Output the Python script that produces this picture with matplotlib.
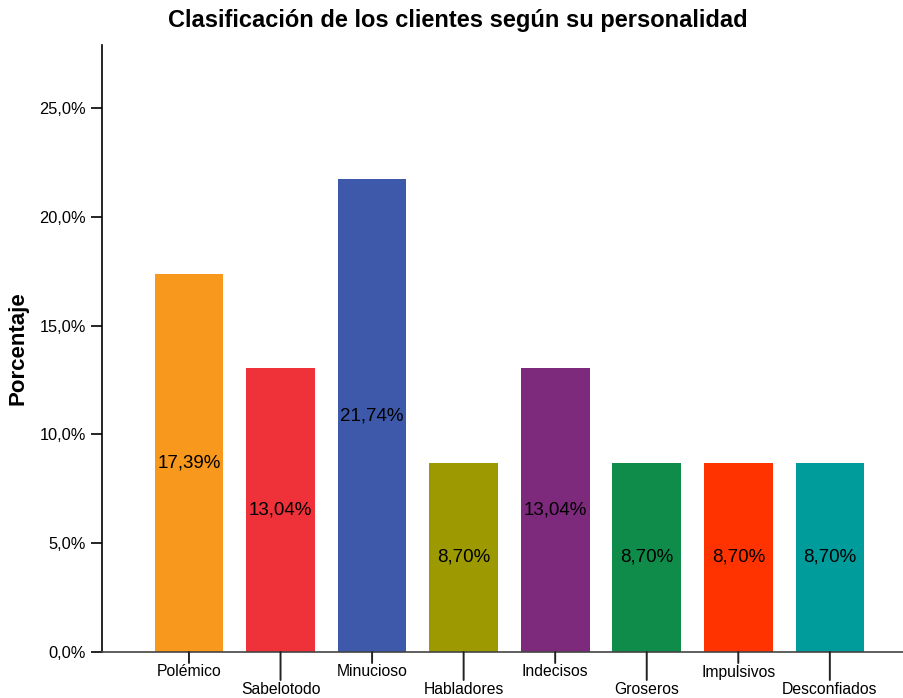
import matplotlib
matplotlib.use("Agg")
import matplotlib.pyplot as plt
from matplotlib.ticker import FuncFormatter

categories = ["Polémico", "Sabelotodo", "Minucioso", "Habladores",
              "Indecisos", "Groseros", "Impulsivos", "Desconfiados"]
values = [17.39, 13.04, 21.74, 8.70, 13.04, 8.70, 8.70, 8.70]
colors = ["#F8981D", "#EF3239", "#3E59AA", "#9C9A00",
          "#7D2A7D", "#0F8C4A", "#FF3300", "#009B9B"]
yticks = [0, 5, 10, 15, 20, 25]

plt.rcParams['font.family'] = ['Liberation Sans', 'DejaVu Sans']

fig = plt.figure(figsize=(9.04, 6.98), dpi=100)
ax = fig.add_axes([102/904, 46/698, 1 - 102/904, (652-45)/698])

x = list(range(len(categories)))
ax.bar(x, values, width=0.75, color=colors, zorder=2)
for xi, v in zip(x, values):
    ax.text(xi, v/2, f"{v:.2f}%".replace(".", ","), ha="center", va="center",
            fontsize=13.5, color="black")

ax.set_xlim(-0.95, 7.81)
ax.set_ylim(0, 27.9)
ax.set_yticks(yticks)
ax.yaxis.set_major_formatter(FuncFormatter(lambda v, p: f"{v:.1f}%".replace(".", ",")))
ax.tick_params(axis="y", labelsize=11.8, length=8, width=1.2, direction="out")

ax.set_xticks(x)
ax.set_xticklabels([])
ax.tick_params(axis="x", length=0)
px = 0.72  # points per pixel at 100 dpi
for i, (xi, c) in enumerate(zip(x, categories)):
    long = i % 2 == 1
    L = 28 if long else 11
    ax.annotate("", xy=(xi, 0), xytext=(0, -L * px), textcoords="offset points",
                arrowprops=dict(arrowstyle="-", color="#222222", lw=1.4, shrinkA=0, shrinkB=0),
                annotation_clip=False)
    off = 37 if long else 20
    ax.annotate(c, xy=(xi, 0), xytext=(0, -off * px), textcoords="offset points",
                ha="center", va="center", fontsize=11.3, annotation_clip=False)

ax.spines["top"].set_visible(False)
ax.spines["right"].set_visible(False)
ax.spines["left"].set_linewidth(1.2)
ax.spines["bottom"].set_linewidth(1.2)
ax.spines["bottom"].set_color("#444444")

ax.set_ylabel("Porcentaje", fontsize=16, fontweight="bold", labelpad=8)
fig.text(458/904, 1 - 20/698, "Clasificación de los clientes según su personalidad",
         ha="center", va="center", fontsize=17, fontweight="bold")

fig.savefig("out.png", dpi=100)
